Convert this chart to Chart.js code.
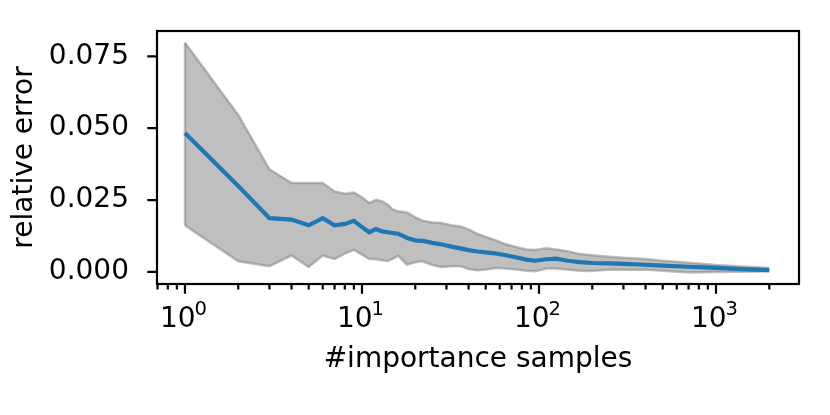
<!DOCTYPE html>
<html>
<head>
<meta charset="utf-8">
<script src="https://cdn.jsdelivr.net/npm/chart.js@4.4.1/dist/chart.umd.min.js"></script>
<style>
html, body { margin: 0; padding: 0; background: #fff; }
#wrap { width: 830px; height: 415px; }
</style>
</head>
<body>
<div id="wrap"><canvas id="chart" width="830" height="415"></canvas></div>
<script>
// number of importance samples (x) and relative error (mean, upper / lower band)
var samples = [1, 2, 3, 4, 5, 6, 7, 8, 9, 10, 11, 12, 13, 14, 15, 16,
	18, 20, 22, 25, 28, 32, 36, 40, 45, 50,
	57, 65, 75, 85, 95,
	110, 125, 145, 170, 200,
	250, 300, 400, 500, 700,
	1000, 1400, 2000];

var meanErr = [0.0483, 0.0299, 0.0187, 0.0182, 0.0162, 0.0187, 0.0162, 0.0167, 0.0178, 0.0156, 0.0138, 0.0149, 0.0141, 0.0138, 0.0135, 0.0133,
	0.0118, 0.0110, 0.0108, 0.0101, 0.0096, 0.0088, 0.0082, 0.0076, 0.0071, 0.0068,
	0.0064, 0.0058, 0.0050, 0.0043, 0.0039,
	0.0044, 0.0046, 0.0039, 0.0034, 0.0031,
	0.0030, 0.0028, 0.0025, 0.0022, 0.0018,
	0.0014, 0.0010, 0.0006];

var upperErr = [0.0797, 0.0546, 0.0357, 0.0309, 0.0309, 0.0309, 0.0280, 0.0272, 0.0276, 0.0260, 0.0240, 0.0251, 0.0245, 0.0234, 0.0216, 0.0211,
	0.0207, 0.0190, 0.0178, 0.0172, 0.0170, 0.0162, 0.0158, 0.0148, 0.0132, 0.0122,
	0.0110, 0.0096, 0.0086, 0.0078, 0.0076,
	0.0082, 0.0078, 0.0072, 0.0062, 0.0058,
	0.0053, 0.0049, 0.0045, 0.0039, 0.0032,
	0.0024, 0.0019, 0.0014];

var lowerErr = [0.0162, 0.0037, 0.0020, 0.0057, 0.0017, 0.0057, 0.0045, 0.0064, 0.0077, 0.0060, 0.0045, 0.0044, 0.0041, 0.0038, 0.0046, 0.0056,
	0.0025, 0.0034, 0.0037, 0.0024, 0.0017, 0.0020, 0.0020, 0.0010, 0.0006, 0.0008,
	0.0014, 0.0012, 0.0008, 0.0004, 0.0002,
	0.0012, 0.0012, 0.0008, 0.0004, 0.0003,
	0.0008, 0.0008, 0.0008, 0.0004, -0.0002,
	0.0000, 0.0001, 0.0002];

var xMajorTicks = [1, 10, 100, 1000];
var yTicks = [0, 0.025, 0.05, 0.075];
var xLimits = [0.695, 2944];
var yLimits = [-0.0042, 0.0838];

var FONT = "'DejaVu Sans'";
var BAND = 'rgba(128,128,128,0.5)';

function toPoints(ys){
	return samples.map(function(x, i){ return {x: x, y: ys[i]}; });
}

// minor log ticks 2..9 per decade, inside the x limits
function minorTicks(){
	var out = [];
	for(var e = -1; e <= 3; e++){
		for(var m = 2; m <= 9; m++){
			var v = m * Math.pow(10, e);
			if(v > xLimits[0] && v < xLimits[1]) out.push(v);
		}
	}
	return out;
}

// matplotlib-like frame, outward ticks and 10^n labels
var axesFrame = {
	id: 'axesFrame',
	afterDraw: function(chart){
		var ctx = chart.ctx;
		var a = chart.chartArea;
		var xs = chart.scales.x, ys = chart.scales.y;
		ctx.save();
		ctx.strokeStyle = '#000';
		ctx.lineWidth = 2.2;
		ctx.strokeRect(a.left, a.top, a.right - a.left, a.bottom - a.top);

		ctx.beginPath();
		yTicks.forEach(function(v){
			var p = ys.getPixelForValue(v);
			ctx.moveTo(a.left - 9.7, p); ctx.lineTo(a.left, p);
		});
		xMajorTicks.forEach(function(v){
			var p = xs.getPixelForValue(v);
			ctx.moveTo(p, a.bottom); ctx.lineTo(p, a.bottom + 9.7);
		});
		minorTicks().forEach(function(v){
			var p = xs.getPixelForValue(v);
			ctx.moveTo(p, a.bottom); ctx.lineTo(p, a.bottom + 5.6);
		});
		ctx.stroke();

		ctx.fillStyle = '#000';
		ctx.textAlign = 'left';
		ctx.textBaseline = 'alphabetic';
		xMajorTicks.forEach(function(v){
			var p = xs.getPixelForValue(v);
			var sup = String(Math.round(Math.log10(v)));
			ctx.font = '28px ' + FONT;
			var w1 = ctx.measureText('10').width;
			ctx.font = '19.6px ' + FONT;
			var w2 = ctx.measureText(sup).width;
			var x0 = p - (w1 + w2) / 2 - 1;
			ctx.font = '28px ' + FONT;
			ctx.fillText('10', x0, a.bottom + 42.7);
			ctx.font = '19.6px ' + FONT;
			ctx.fillText(sup, x0 + w1 - 1, a.bottom + 31);
		});
		ctx.restore();
	}
};

var config = {
	type: 'line',
	data: {
		datasets: [
			{
				data: toPoints(lowerErr),
				borderColor: BAND,
				borderWidth: 2.5,
				pointRadius: 0,
				fill: false,
				order: 2
			},
			{
				data: toPoints(upperErr),
				borderColor: BAND,
				backgroundColor: BAND,
				borderWidth: 2.5,
				pointRadius: 0,
				fill: '-1',
				order: 2
			},
			{
				// closing edge of the band at the first sample
				data: [{x: samples[0], y: lowerErr[0]}, {x: samples[0], y: upperErr[0]}],
				borderColor: BAND,
				borderWidth: 2.5,
				pointRadius: 0,
				fill: false,
				order: 2
			},
			{
				data: toPoints(meanErr),
				borderColor: '#1f77b4',
				borderWidth: 4.2,
				pointRadius: 0,
				fill: false,
				order: 0
			}
		]
	},
	options: {
		responsive: false,
		animation: false,
		events: [],
		layout: { padding: { top: 31, right: 31, left: 0, bottom: 0 } },
		plugins: {
			legend: { display: false },
			tooltip: { enabled: false }
		},
		elements: { line: { tension: 0 } },
		scales: {
			x: {
				type: 'logarithmic',
				min: xLimits[0],
				max: xLimits[1],
				grid: { display: false },
				border: { display: false },
				ticks: { display: false },
				title: {
					display: true,
					text: '#importance samples',
					color: '#000',
					font: { family: FONT, size: 28 },
					padding: { top: 0, bottom: 38 }
				},
				afterFit: function(scale){
					scale.height = 131;
					scale.paddingLeft = 0; scale.paddingRight = 0;
				}
			},
			y: {
				type: 'linear',
				min: yLimits[0],
				max: yLimits[1],
				grid: { display: false },
				border: { display: false },
				afterBuildTicks: function(scale){
					scale.ticks = yTicks.map(function(v){ return {value: v}; });
				},
				ticks: {
					color: '#000',
					padding: 20,
					font: { family: FONT, size: 28 },
					callback: function(v){ return Number(v).toFixed(3); }
				},
				title: {
					display: true,
					text: 'relative error',
					color: '#000',
					font: { family: FONT, size: 28 },
					padding: { top: 8, bottom: 0 }
				},
				afterFit: function(scale){
					scale.width = 157;
					scale.paddingTop = 0; scale.paddingBottom = 0;
				}
			}
		}
	},
	plugins: [axesFrame]
};

new Chart(document.getElementById('chart'), config);
</script>
</body>
</html>
